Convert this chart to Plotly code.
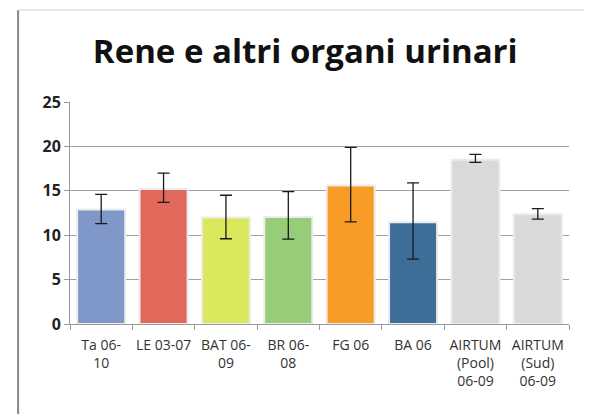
import plotly.graph_objects as go

categories = ["Ta 06-<br>10", "LE 03-07", "BAT 06-<br>09", "BR 06-<br>08", "FG 06",
              "BA 06", "AIRTUM<br>(Pool)<br>06-09", "AIRTUM<br>(Sud)<br>06-09"]
values = [12.9, 15.2, 12.0, 12.05, 15.6, 11.45, 18.5, 12.35]
err_upper = [14.6, 17.0, 14.5, 14.9, 19.9, 15.9, 19.1, 13.0]
err_lower = [11.3, 13.7, 9.6, 9.55, 11.5, 7.3, 18.2, 11.8]
colors = ["#8097c9", "#e2685b", "#dbe85c", "#97cd78", "#f89c26", "#3c6e98", "#d9d9d9", "#d9d9d9"]
y_ticks = [0, 5, 10, 15, 20, 25]

plus = [u - v for u, v in zip(err_upper, values)]
minus = [v - l for v, l in zip(values, err_lower)]

fig = go.Figure(go.Bar(
    x=categories,
    y=values,
    marker=dict(color=colors, line=dict(color="#ececec", width=2)),
    error_y=dict(type="data", symmetric=False, array=plus, arrayminus=minus,
                 color="#1a1a1a", thickness=1.3, width=6),
))

# page body has an 8px margin, so the figure is a bit smaller than the window
fig.update_layout(
    width=584, height=406,
    margin=dict(l=62, r=23, t=94, b=90, autoexpand=False),
    paper_bgcolor="white", plot_bgcolor="white",
    bargap=0.23,
    showlegend=False,
    title=dict(text="<b>Rene e altri organi urinari</b>", x=0.509, xanchor="center",
               y=0.892, yanchor="middle",
               font=dict(family="Open Sans", size=33, color="#111111")),
    font=dict(family="Open Sans", color="#333333"),
    shapes=[
        dict(type="line", xref="paper", yref="paper", x0=-0.104, x1=-0.104, y0=1.414, y1=-0.42,
             line=dict(color="#888888", width=2)),
        dict(type="line", xref="paper", yref="paper", x0=-0.104, x1=1.05, y0=1.414, y1=1.414,
             line=dict(color="#d0d0d0", width=1)),
    ],
)

fig.update_yaxes(
    range=[0, 25], tickvals=y_ticks, showgrid=True, gridcolor="#a0a0a0", gridwidth=1,
    showline=True, linecolor="#999999", ticks="outside", ticklen=5, tickcolor="#999999",
    tickfont=dict(size=16, color="#222222", family="Open Sans", weight="bold"), zeroline=False,
    automargin=False,
)

fig.update_xaxes(
    showline=True, linecolor="#999999", ticks="outside", tickson="boundaries",
    ticklen=5, tickcolor="#999999", tickangle=0, automargin=False, ticklabelstandoff=8,
    tickfont=dict(size=14, color="#333333", family="Open Sans"),
)

fig.write_html("out.html")
